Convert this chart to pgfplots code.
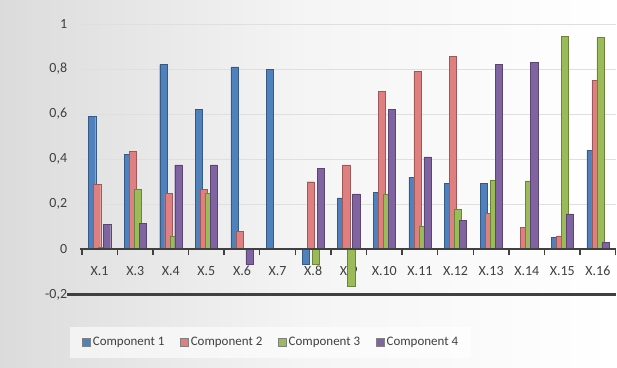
\documentclass[border=0pt]{standalone}
\usepackage{pgfplots}
\pgfplotsset{compat=1.18}
\usepackage{fontspec}
\setmainfont{Carlito}
\definecolor{cA}{HTML}{4F81BD}
\definecolor{cB}{HTML}{E07F7F}
\definecolor{cC}{HTML}{9BBB59}
\definecolor{cD}{HTML}{8064A2}
\definecolor{txt}{HTML}{404040}
\begin{document}
\begin{tikzpicture}
\shade[left color=gray!28, right color=white, middle color=gray!8] (0bp,0bp) rectangle (617bp,368bp);
\fill[white, opacity=0.6] (70bp,9bp) rectangle (472bp,40bp);
\begin{axis}[
  at={(82bp,73bp)}, anchor=south west,
  scale only axis, width=535bp, height=271bp,
  xmin=-0.5, xmax=14.5, ymin=-0.2, ymax=1,
  axis x line=middle, axis y line=left,
  axis line style={-}, x axis line style={draw=none}, y axis line style={draw=none},
  xtick={0,...,14},
  xticklabels={X.1,X.3,X.4,X.5,X.6,X.7,X.8,X.9,X.10,X.11,X.12,X.13,X.14,X.15,X.16},
  major x tick style={draw=none},
  xticklabel style={yshift=-9bp},
  minor xtick={-0.5,0.5,...,14.5},
  minor x tick style={draw=txt, line width=1.4pt},
  minor tick length=6bp, tick align=outside,
  ytick={-0.2,0,0.2,0.4,0.6,0.8,1},
  yticklabels={{-0,2},0,{0,2},{0,4},{0,6},{0,8},1},
  ytick style={draw=none},
  yticklabel style={xshift=-7bp},
  ymajorgrids, grid style={gray!25, line width=0.8pt},
  tick label style={font=\fontsize{14bp}{16bp}\selectfont, text=txt},
  ybar=-2.2bp, bar width=7.2bp,
  clip=false,
  legend columns=4,
  legend style={at={(0.355,-0.177)}, anchor=center, draw=none, fill=none,
    font=\fontsize{13bp}{15bp}\selectfont, text=txt,
    /tikz/every even column/.append style={column sep=14bp}},
  legend image code/.code={\draw[#1, draw=black!50] (0bp,-4bp) rectangle (8bp,4bp);},
]
\addplot[fill=cA, draw=cA!70!black] coordinates {(0,0.59) (1,0.42) (2,0.82) (3,0.62) (4,0.81) (5,0.80) (6,-0.065) (7,0.228) (8,0.253) (9,0.32) (10,0.294) (11,0.294) (12,0) (13,0.054) (14,0.44)};
\addplot[fill=cB, draw=cB!70!black] coordinates {(0,0.287) (1,0.434) (2,0.247) (3,0.265) (4,0.08) (5,0) (6,0.30) (7,0.375) (8,0.70) (9,0.79) (10,0.856) (11,0.16) (12,0.096) (13,0.06) (14,0.75)};
\addplot[fill=cC, draw=cC!70!black] coordinates {(0,0.01) (1,0.265) (2,0.056) (3,0.247) (4,0) (5,0) (6,-0.065) (7,-0.165) (8,0.246) (9,0.103) (10,0.176) (11,0.306) (12,0.304) (13,0.945) (14,0.94)};
\addplot[fill=cD, draw=cD!70!black] coordinates {(0,0.11) (1,0.115) (2,0.375) (3,0.375) (4,-0.068) (5,0) (6,0.36) (7,0.246) (8,0.622) (9,0.41) (10,0.128) (11,0.82) (12,0.83) (13,0.157) (14,0.03)};
\legend{Component 1,Component 2,Component 3,Component 4}
\end{axis}
\draw[txt, line width=2.2pt] (80bp,118.2bp) -- (617bp,118.2bp);
\draw[black!75, line width=2.6pt] (67bp,73bp) -- (617bp,73bp);
\end{tikzpicture}
\end{document}
